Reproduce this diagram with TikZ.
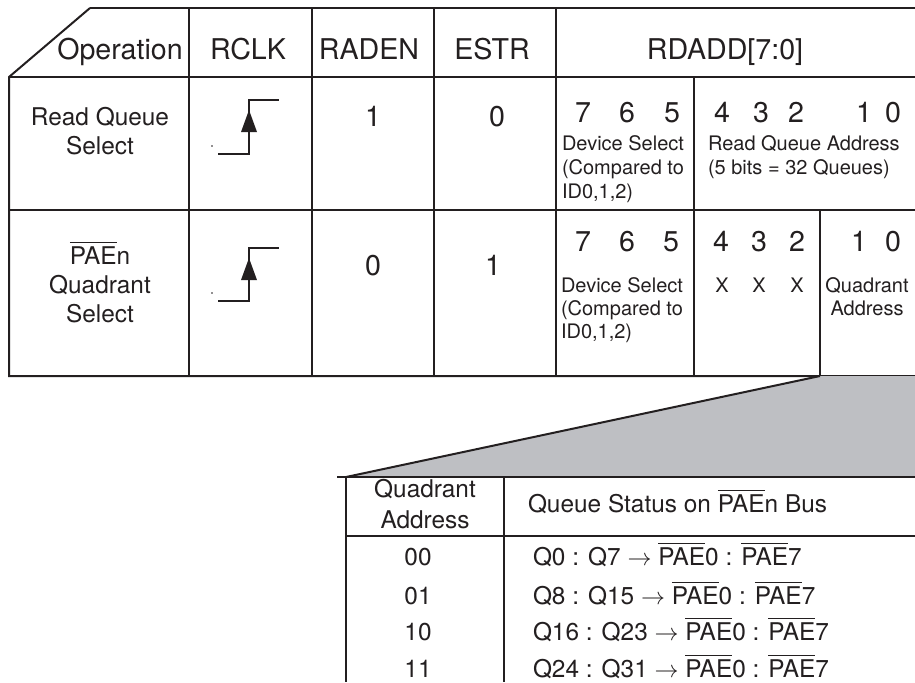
\documentclass[tikz,border=0pt]{standalone}
\usepackage{fontspec}
\setmainfont{TeX Gyre Heros}
\newcommand{\ovl}[1]{\leavevmode\vbox{\hrule height 0.6pt\kern 1.5pt\hbox{#1}}}
\definecolor{zoomgray}{RGB}{190,191,195}
\definecolor{ink}{RGB}{35,31,32}
\begin{document}
\begin{tikzpicture}[x=0.5pt,y=-0.5pt,line width=1pt,draw=ink,
  big/.style={font=\fontsize{14.3}{17}\selectfont,inner sep=0pt,anchor=base,text=ink},
  mid/.style={font=\fontsize{12.2}{14.5}\selectfont,inner sep=0pt,anchor=base,text=ink},
  small/.style={font=\fontsize{10}{12}\selectfont,inner sep=0pt,anchor=base,text=ink},
  smallw/.style={small,anchor=base west},
  midw/.style={mid,anchor=base west}]
\useasboundingbox (0,0) rectangle (915,682);
% top table grid
\draw (90,8) -- (915,8);
\draw (90,8) -- (9,77) -- (9,376) -- (915,376);
\draw (9,77) -- (915,77);
\draw (9,210) -- (915,210);
\foreach \x in {189,312,434,556} \draw (\x,8) -- (\x,376);
\draw (694,77) -- (694,376);
\draw (820,210) -- (820,376);
% zoom wedge
\fill[zoomgray] (820,376) -- (915,376) -- (915,477) -- (346,477) -- cycle;
\draw (820,376) -- (346,477);
\draw (337,477) -- (915,477);
\draw (346,477) -- (346,682);
\draw (504,477) -- (504,682);
\draw (346,536) -- (915,536);
% header
\node[big] (hop) at (120,59) {Operation};
\node[big] (hrclk) at (248,59) {RCLK};
\node[big] (hraden) at (369,59) {RADEN};
\node[big] (hestr) at (492,59) {ESTR};
\node[big] (hrdadd) at (725,59) {RDADD[7:0]};
% row 1
\node[mid] (rqa) at (100,125) {Read Queue};
\node[mid] (rqb) at (100,154) {Select};
\draw (218,154) -- (249,154) -- (249,100) -- (279,100);
\fill[ink] (241,132) -- (257,132) -- (249,110) -- cycle;
\fill[ink] (212,146) circle (0.9);
\node[big] (r1raden) at (373,126) {1};
\node[big] (r1estr) at (497,126) {0};
\node[big] (r1b7) at (583,122) {7};
\node[big] (r1b6) at (627,122) {6};
\node[big] (r1b5) at (672,122) {5};
\node[big] (r1b4) at (722,122) {4};
\node[big] (r1b3) at (761,122) {3};
\node[big] (r1b2) at (796,122) {2};
\node[big] (r1b1) at (864,122) {1};
\node[big] (r1b0) at (893,122) {0};
\node[smallw] (r1dsa) at (561,150) {Device Select};
\node[smallw] (r1dsb) at (561,174) {(Compared to};
\node[smallw] (r1dsc) at (561,198) {ID0,1,2)};
\node[smallw] (r1rqa) at (707,150) {Read Queue Address};
\node[smallw] (r1rqb) at (707,174) {(5 bits = 32 Queues)};
% row 2
\node[mid] (pqa) at (100,264) {\ovl{PAE}n};
\node[mid] (pqb) at (100,293) {Quadrant};
\node[mid] (pqc) at (100,322) {Select};
\draw (218,301) -- (249,301) -- (249,248) -- (279,248);
\fill[ink] (241,280) -- (257,280) -- (249,258) -- cycle;
\fill[ink] (212,293) circle (0.9);
\node[big] (r2raden) at (373,275) {0};
\node[big] (r2estr) at (493,275) {1};
\node[big] (r2b7) at (583,251) {7};
\node[big] (r2b6) at (627,251) {6};
\node[big] (r2b5) at (671,251) {5};
\node[big] (r2b4) at (721,251) {4};
\node[big] (r2b3) at (759,251) {3};
\node[big] (r2b2) at (797,251) {2};
\node[big] (r2b1) at (859,251) {1};
\node[big] (r2b0) at (893,251) {0};
\node[smallw] (r2dsa) at (560,292) {Device Select};
\node[smallw] (r2dsb) at (560,315) {(Compared to};
\node[smallw] (r2dsc) at (560,338) {ID0,1,2)};
\node[small] (x4) at (722,292) {X};
\node[small] (x3) at (759,292) {X};
\node[small] (x2) at (797,292) {X};
\node[small] (qaa) at (867,292) {Quadrant};
\node[small] (qab) at (867,315) {Address};
% lower table
\node[mid] (lqa) at (425,497) {Quadrant};
\node[mid] (lqb) at (425,528) {Address};
\node[midw] (lqs) at (527,512) {Queue Status on \ovl{PAE}n Bus};
\node[mid] (a00) at (418,565) {00};
\node[mid] (a01) at (418,604) {01};
\node[mid] (a10) at (418,640) {10};
\node[mid] (a11) at (418,677) {11};
\node[midw] (s00) at (532,565) {Q0 : Q7 $\rightarrow$ \ovl{PAE}0 : \ovl{PAE}7};
\node[midw] (s01) at (532,604) {Q8 : Q15 $\rightarrow$ \ovl{PAE}0 : \ovl{PAE}7};
\node[midw] (s10) at (532,640) {Q16 : Q23 $\rightarrow$ \ovl{PAE}0 : \ovl{PAE}7};
\node[midw] (s11) at (532,677) {Q24 : Q31 $\rightarrow$ \ovl{PAE}0 : \ovl{PAE}7};
\end{tikzpicture}
\end{document}
